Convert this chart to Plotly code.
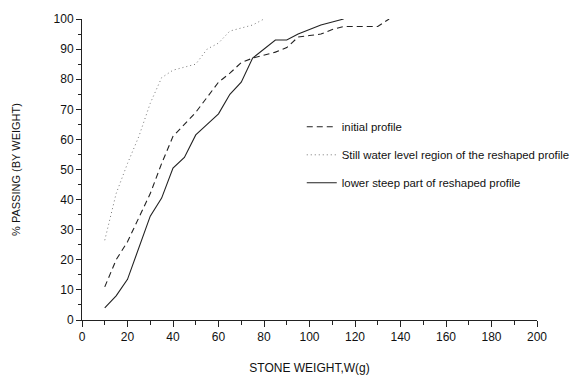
import plotly.graph_objects as go

# Data
x_initial = [10, 15, 20, 25, 30, 35, 40, 45, 50, 55, 60, 65, 70, 75, 80, 85, 90, 95,
             100, 105, 110, 115, 120, 125, 130, 135]
y_initial = [11, 20, 26, 34, 42, 52, 61, 65, 69, 74, 79, 82, 85.5, 87, 88, 89, 90.5, 94,
             94.5, 95, 96.5, 97.5, 97.5, 97.5, 97.5, 100]

x_still = [10, 15, 20, 25, 30, 35, 40, 45, 50, 55, 60, 65, 70, 75, 80]
y_still = [26.5, 42, 52, 61, 72, 80.5, 83, 84, 85, 90, 92, 96, 97, 98, 100]

x_lower = [10, 15, 20, 25, 30, 35, 40, 45, 50, 55, 60, 65, 70, 75, 80, 85, 90, 95,
           100, 105, 110, 115]
y_lower = [4, 8, 13.5, 24, 34.5, 40.5, 50.5, 54, 61.5, 65, 68.5, 75, 79, 87, 90, 93, 93,
           95, 96.5, 98, 99, 100]

names = ["initial profile",
         "Still water level region of the reshaped profile",
         "lower steep part of reshaped profile"]

x_ticks = [0, 20, 40, 60, 80, 100, 120, 140, 160, 180, 200]
y_ticks = [0, 10, 20, 30, 40, 50, 60, 70, 80, 90, 100]

FONT = "Liberation Sans, Arial, sans-serif"

fig = go.Figure()
fig.add_trace(go.Scatter(x=x_initial, y=y_initial, mode="lines", name=names[0],
                         legendgroup="a",
                         line=dict(color="#222222", width=1.1, dash="6px,4px")))
fig.add_trace(go.Scatter(x=x_still, y=y_still, mode="lines", name=names[1],
                         legendgroup="b",
                         line=dict(color="#777777", width=1, dash="1px,3px")))
fig.add_trace(go.Scatter(x=x_lower, y=y_lower, mode="lines", name=names[2],
                         legendgroup="c",
                         line=dict(color="#222222", width=1.1)))

fig.update_layout(
    width=588, height=385,
    margin=dict(l=82, r=51, t=17, b=60),
    paper_bgcolor="white", plot_bgcolor="white",
    font=dict(family=FONT, size=11, color="#111111"),
    showlegend=True,
    legend=dict(x=0.483, y=0.69, xanchor="left", yanchor="top",
                bgcolor="rgba(0,0,0,0)", borderwidth=0,
                font=dict(size=11.4, family=FONT),
                itemwidth=30, tracegroupgap=9, traceorder="grouped"),
    xaxis=dict(range=[0, 200], tickvals=x_ticks, ticktext=[str(v) for v in x_ticks],
               showline=True, linecolor="#222222", linewidth=1,
               ticks="outside", ticklen=6, tickcolor="#222222",
               minor=dict(dtick=10, ticks="outside", ticklen=4, tickcolor="#222222"),
               showgrid=False, zeroline=False,
               tickfont=dict(size=12),
               title=dict(text="STONE WEIGHT,W(g)", font=dict(size=12), standoff=20)),
    yaxis=dict(range=[0, 100], tickvals=y_ticks, ticktext=[str(v) for v in y_ticks],
               showline=True, linecolor="#222222", linewidth=1,
               ticks="outside", ticklen=5, tickcolor="#222222",
               minor=dict(dtick=5, ticks="outside", ticklen=3, tickcolor="#222222"),
               showgrid=False, zeroline=False,
               tickfont=dict(size=12),
               title=dict(text="% PASSING (BY WEIGHT)", font=dict(size=11), standoff=30)),
)

fig.write_html("out.html")
